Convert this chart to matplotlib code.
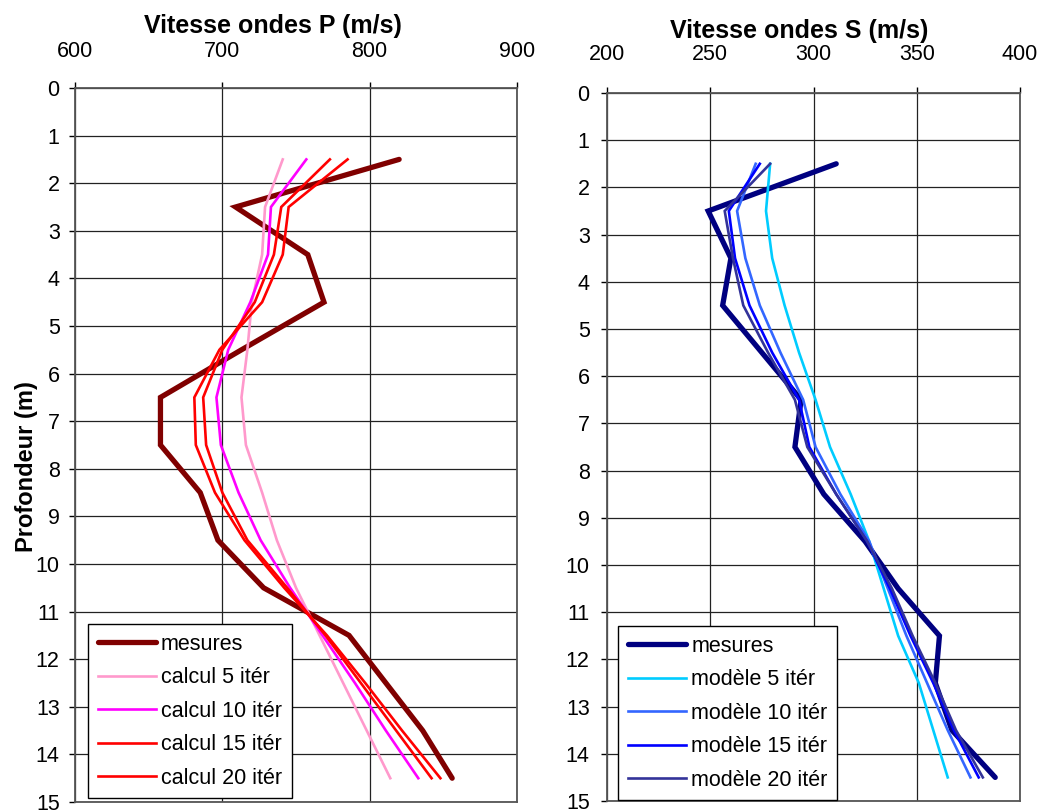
import numpy as np
import matplotlib
matplotlib.use("Agg")
import matplotlib.pyplot as plt

plt.rcParams['font.family'] = ['Liberation Sans', 'DejaVu Sans']

# profondeurs (m)
depth = [1.5, 2.5, 3.5, 4.5, 5.5, 6.5, 7.5, 8.5, 9.5, 10.5, 11.5, 12.5, 13.5, 14.5]

# ondes P (m/s)
mesures_P = [820, 709, 758, 769, 713, 658, 658, 685, 697, 728, 786, 811, 836, 856]
calcul_5 = [741, 729, 727, 720, 717, 713, 716, 727, 737, 750, 766, 782, 798, 814]
calcul_10 = [757, 733, 731, 719, 704, 696, 699, 711, 726, 746, 768, 790, 811, 833]
calcul_15 = [773, 740, 735, 722, 700, 687, 689, 700, 717, 744, 770, 794, 818, 842]
calcul_20 = [785, 745, 741, 727, 698, 681, 682, 695, 715, 742, 771, 797, 822, 848]

# ondes S (m/s)
mesures_S = [311, 249, 260, 256, 275, 294, 291, 305, 325, 341, 361, 359, 367, 388]
modele_5 = [279, 277, 280, 286, 293, 301, 308, 318, 327, 334, 341, 351, 358, 365]
modele_10 = [272, 263, 267, 274, 284, 295, 301, 313, 327, 336, 345, 355, 365, 376]
modele_15 = [274, 259, 262, 269, 280, 293, 298, 311, 326, 337, 347, 358, 368, 380]
modele_20 = [279, 257, 261, 266, 278, 291, 297, 311, 326, 338, 348, 359, 369, 382]

P_ticks = [600, 700, 800, 900]
S_ticks = [200, 250, 300, 350, 400]
depth_ticks = list(range(0, 16))

W, H = 1044, 811
fig = plt.figure(figsize=(W / 100, H / 100), dpi=100)


def px_axes(x0, y0, x1, y1):
    return fig.add_axes([x0 / W, 1 - y1 / H, (x1 - x0) / W, (y1 - y0) / H])


def style_axes(ax, xticks, xlim, xpad, ypad):
    ax.set_xlim(*xlim)
    ax.set_ylim(15, 0)
    ax.set_xticks(xticks)
    ax.set_yticks(depth_ticks)
    ax.xaxis.tick_top()
    ax.tick_params(axis='x', direction='out', length=4.5, width=1, pad=xpad,
                   labelsize=15.5, top=True, bottom=False)
    ax.tick_params(axis='y', direction='out', length=4.5, width=1, pad=ypad,
                   labelsize=15.5)
    ax.grid(True, color='#222222', lw=0.9)
    ax.set_axisbelow(True)
    for s in ax.spines.values():
        s.set_color('#555555')
        s.set_linewidth(1.3)


thick = dict(lw=3.8, solid_capstyle='round', solid_joinstyle='miter')
thin = dict(lw=1.9, solid_joinstyle='miter')

# --- ondes P ---
axP = px_axes(75, 88, 517, 802)
style_axes(axP, P_ticks, (600, 900), 14, 6.5)
axP.plot(mesures_P, depth, color='#800000', label='mesures', **thick)
axP.plot(calcul_5, depth, color='#FF99CC', label='calcul 5 itér', **thin)
axP.plot(calcul_10, depth, color='#FF00FF', label='calcul 10 itér', **thin)
axP.plot(calcul_15, depth, color='#FF0000', label='calcul 15 itér', **thin)
axP.plot(calcul_20, depth, color='#FF0000', label='calcul 20 itér', **thin)

# --- ondes S ---
axS = px_axes(607, 93, 1020, 801)
style_axes(axS, S_ticks, (200, 400), 16, 8)
axS.plot(mesures_S, depth, color='#000080', label='mesures', **thick)
axS.plot(modele_5, depth, color='#00CCFF', label='modèle 5 itér', **thin)
axS.plot(modele_10, depth, color='#3366FF', label='modèle 10 itér', **thin)
axS.plot(modele_15, depth, color='#0000FF', label='modèle 15 itér', **thin)
axS.plot(modele_20, depth, color='#333399', label='modèle 20 itér', **thin)

leg_kw = dict(loc='lower left', fontsize=15.5, frameon=True, fancybox=False,
              borderaxespad=0, handlelength=2.7, handletextpad=0.25,
              labelspacing=0.58, borderpad=0.45, framealpha=1)
for ax, anchor in ((axP, (0.029, 0.005)), (axS, (0.027, 0.001))):
    leg = ax.legend(bbox_to_anchor=anchor, **leg_kw)
    leg.get_frame().set_edgecolor('black')
    leg.get_frame().set_linewidth(1.0)

fig.text(273 / W, 1 - 33 / H, 'Vitesse ondes P (m/s)', ha='center', va='baseline',
         fontsize=18, fontweight='bold')
fig.text(799 / W, 1 - 38 / H, 'Vitesse ondes S (m/s)', ha='center', va='baseline',
         fontsize=18, fontweight='bold')
fig.text(27 / W, 1 - 467 / H, 'Profondeur (m)', ha='center', va='center',
         rotation=90, fontsize=17, fontweight='bold')

fig.savefig('out.png', dpi=100)
